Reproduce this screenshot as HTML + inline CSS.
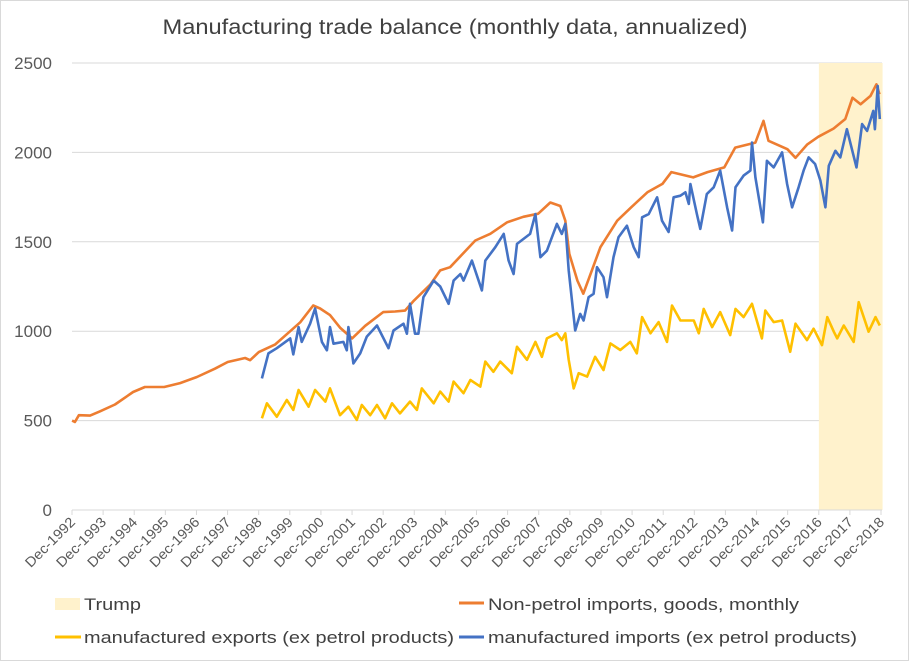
<!DOCTYPE html>
<html><head><meta charset="utf-8">
<style>
html,body{margin:0;padding:0;background:#fff;}
svg{display:block;font-family:"Liberation Sans",sans-serif;}
</style></head>
<body>
<svg id="chart" width="910" height="661" viewBox="0 0 910 661" xmlns="http://www.w3.org/2000/svg">
<rect x="0.5" y="0.5" width="908" height="660" fill="#fff" stroke="#d9d9d9"/>
<text x="455" y="34" text-anchor="middle" font-size="21" fill="#404040" textLength="585" lengthAdjust="spacingAndGlyphs">Manufacturing trade balance (monthly data, annualized)</text>
<g id="grid"></g>
<g id="shade"></g>
<g id="yaxis"></g>
<g id="xaxis"></g>
<g id="series"></g>
<g>
  <rect x="55" y="598" width="25" height="12" fill="#fff2cc"/>
  <text x="84" y="610" font-size="17" fill="#404040" textLength="57" lengthAdjust="spacingAndGlyphs">Trump</text>
  <line x1="459" y1="603" x2="484" y2="603" stroke="#ed7d31" stroke-width="3"/>
  <text x="488" y="610" font-size="17" fill="#404040" textLength="311" lengthAdjust="spacingAndGlyphs">Non-petrol imports, goods, monthly</text>
  <line x1="55" y1="637" x2="81" y2="637" stroke="#ffc000" stroke-width="3"/>
  <text x="84" y="643" font-size="17" fill="#404040" textLength="370" lengthAdjust="spacingAndGlyphs">manufactured exports (ex petrol products)</text>
  <line x1="459" y1="637" x2="484" y2="637" stroke="#4472c4" stroke-width="3"/>
  <text x="488" y="643" font-size="17" fill="#404040" textLength="369" lengthAdjust="spacingAndGlyphs">manufactured imports (ex petrol products)</text>
</g>
</svg>
<script>
const yTicks = [0, 500, 1000, 1500, 2000, 2500];
const xYears = [1992,1993,1994,1995,1996,1997,1998,1999,2000,2001,2002,2003,2004,2005,2006,2007,2008,2009,2010,2011,2012,2013,2014,2015,2016,2017,2018];
const trumpStart = 2016.92;
const trumpEnd = 2018.92;

const orangeDates = [1992.92,1993.01,1993.14,1993.50,1993.82,1994.30,1994.88,1995.26,1995.88,1996.39,1996.93,1997.51,1997.92,1998.48,1998.64,1998.92,1999.44,1999.93,2000.25,2000.67,2000.89,2001.21,2001.53,2001.92,2002.34,2002.92,2003.30,2003.62,2003.91,2004.43,2004.75,2005.07,2005.88,2006.36,2006.90,2007.42,2007.90,2008.29,2008.61,2008.77,2008.90,2009.16,2009.35,2009.90,2010.44,2010.89,2011.41,2011.89,2012.18,2012.88,2013.34,2013.88,2014.23,2014.88,2015.14,2015.30,2015.91,2016.17,2016.55,2016.90,2017.39,2017.77,2018.00,2018.26,2018.58,2018.77,2018.87];
const orangeValues = [500,492,530,528,552,590,660,688,688,710,744,790,828,850,838,883,925,1000,1050,1144,1127,1090,1020,960,1030,1107,1110,1115,1172,1260,1340,1358,1507,1545,1609,1640,1657,1720,1700,1618,1433,1283,1210,1470,1618,1693,1777,1824,1890,1860,1890,1916,2027,2055,2176,2065,2018,1970,2045,2087,2133,2187,2306,2269,2316,2381,2325];

const blueDates = [1999.02,1999.23,1999.50,1999.93,2000.03,2000.20,2000.30,2000.57,2000.73,2000.95,2001.11,2001.21,2001.32,2001.64,2001.75,2001.80,2001.96,2002.18,2002.39,2002.72,2003.09,2003.25,2003.57,2003.68,2003.78,2003.94,2004.05,2004.21,2004.54,2004.75,2005.02,2005.18,2005.40,2005.50,2005.77,2006.09,2006.20,2006.52,2006.79,2006.95,2007.11,2007.22,2007.64,2007.81,2007.97,2008.18,2008.50,2008.66,2008.77,2008.88,2009.09,2009.25,2009.36,2009.52,2009.68,2009.79,2010.00,2010.11,2010.32,2010.48,2010.75,2010.97,2011.13,2011.24,2011.45,2011.72,2011.88,2012.09,2012.25,2012.47,2012.63,2012.74,2012.79,2013.00,2013.11,2013.32,2013.54,2013.75,2013.97,2014.13,2014.24,2014.50,2014.72,2014.77,2014.88,2015.12,2015.25,2015.47,2015.74,2015.90,2016.06,2016.27,2016.43,2016.59,2016.80,2016.97,2017.13,2017.24,2017.45,2017.61,2017.82,2018.13,2018.31,2018.47,2018.67,2018.72,2018.81,2018.88];
const blueValues = [736,876,905,960,870,1023,940,1042,1127,940,893,1023,930,940,893,1023,820,876,970,1032,905,1004,1042,986,1153,986,986,1190,1283,1250,1153,1283,1320,1283,1395,1228,1395,1470,1544,1395,1320,1488,1544,1655,1414,1450,1600,1544,1600,1340,1004,1097,1060,1190,1209,1358,1302,1190,1414,1525,1590,1470,1414,1637,1655,1749,1618,1555,1749,1758,1777,1712,1823,1655,1572,1767,1805,1898,1693,1563,1805,1870,1898,2055,1860,1609,1953,1916,2000,1823,1693,1805,1898,1972,1935,1842,1693,1925,2009,1972,2130,1916,2158,2120,2232,2130,2372,2186];

const yellowDates = [1999.02,1999.18,1999.50,1999.82,2000.03,2000.20,2000.36,2000.52,2000.73,2001.06,2001.21,2001.53,2001.80,2002.07,2002.23,2002.50,2002.72,2002.98,2003.20,2003.46,2003.78,2004.00,2004.16,2004.54,2004.75,2005.02,2005.18,2005.50,2005.72,2006.04,2006.20,2006.46,2006.68,2007.05,2007.22,2007.54,2007.81,2008.02,2008.18,2008.50,2008.66,2008.77,2008.88,2009.04,2009.20,2009.47,2009.73,2010.00,2010.22,2010.54,2010.86,2011.07,2011.24,2011.51,2011.77,2012.04,2012.20,2012.47,2012.90,2013.06,2013.22,2013.49,2013.75,2014.07,2014.24,2014.50,2014.77,2015.09,2015.20,2015.47,2015.74,2016.00,2016.17,2016.54,2016.75,2017.02,2017.19,2017.40,2017.51,2017.72,2018.04,2018.20,2018.52,2018.74,2018.88];
const yellowValues = [513,597,522,615,560,671,625,578,671,606,680,530,578,504,587,530,587,513,597,540,606,560,680,597,662,606,718,653,727,690,830,773,830,765,913,840,940,857,960,988,950,988,840,680,765,746,857,783,932,895,940,876,1079,988,1051,940,1144,1060,1060,988,1125,1023,1107,978,1125,1079,1153,960,1116,1051,1060,885,1042,950,1014,922,1079,997,960,1032,940,1162,997,1079,1032];

const X0 = 72, X1 = 881, Y0 = 510, Y1 = 63;
const D0 = 1992.917, D1 = 2018.917;
function xScale(d){ return X0 + (d - D0) / (D1 - D0) * (X1 - X0); }
function yScale(v){ return Y0 - v / 2500 * (Y0 - Y1); }
const NS = "http://www.w3.org/2000/svg";
function mk(tag, attrs, parent){ const e = document.createElementNS(NS, tag); for (const k in attrs) e.setAttribute(k, attrs[k]); parent.appendChild(e); return e; }

const grid = document.getElementById('grid');
const yaxis = document.getElementById('yaxis');
yTicks.forEach(function(t){
  const y = yScale(t);
  if (t > 0) {
    const l = mk('line', {x1: X0, x2: X1 + 1, y1: y, y2: y, stroke: '#d9d9d9', 'stroke-width': 1}, grid);
    
    
  }
  const tx = mk('text', {x: 52, y: y + 6, 'text-anchor': 'end', 'font-size': 17, fill: '#595959'}, yaxis);
  tx.textContent = t;
  
  
});

const shade = document.getElementById('shade');
const sr = mk('rect', {x: xScale(trumpStart), y: Y1, width: xScale(trumpEnd) - xScale(trumpStart) + 1.5, height: Y0 - Y1, fill: '#fff2cc'}, shade);



const xaxis = document.getElementById('xaxis');
const ax = mk('line', {x1: X0, x2: X1 + 1, y1: Y0, y2: Y0, stroke: '#d9d9d9', 'stroke-width': 1}, xaxis);


xYears.forEach(function(yr){
  const x = xScale(yr + 0.917);
  const tk = mk('line', {x1: x, x2: x, y1: Y0, y2: Y0 + 5, stroke: '#d9d9d9'}, xaxis);
  
  
  const tx = mk('text', {x: x + 4, y: Y0 + 13, 'text-anchor': 'end', 'font-size': 14, fill: '#595959', textLength: 64, lengthAdjust: 'spacingAndGlyphs', transform: 'rotate(-45 ' + (x + 4) + ' ' + (Y0 + 13) + ')'}, xaxis);
  tx.textContent = 'Dec-' + yr;
  
  
});

const series = document.getElementById('series');
function drawLine(dates, vals, color, name){
  const pts = dates.map(function(d, i){ return xScale(d).toFixed(1) + ',' + yScale(vals[i]).toFixed(1); }).join(' ');
  const p = mk('polyline', {points: pts, fill: 'none', stroke: color, 'stroke-width': 2.6, 'stroke-linejoin': 'round'}, series);
  
  
}
drawLine(yellowDates, yellowValues, '#ffc000', 'exports-line');
drawLine(orangeDates, orangeValues, '#ed7d31', 'non-petrol-imports-line');
drawLine(blueDates, blueValues, '#4472c4', 'manufactured-imports-line');
</script>
</body></html>
